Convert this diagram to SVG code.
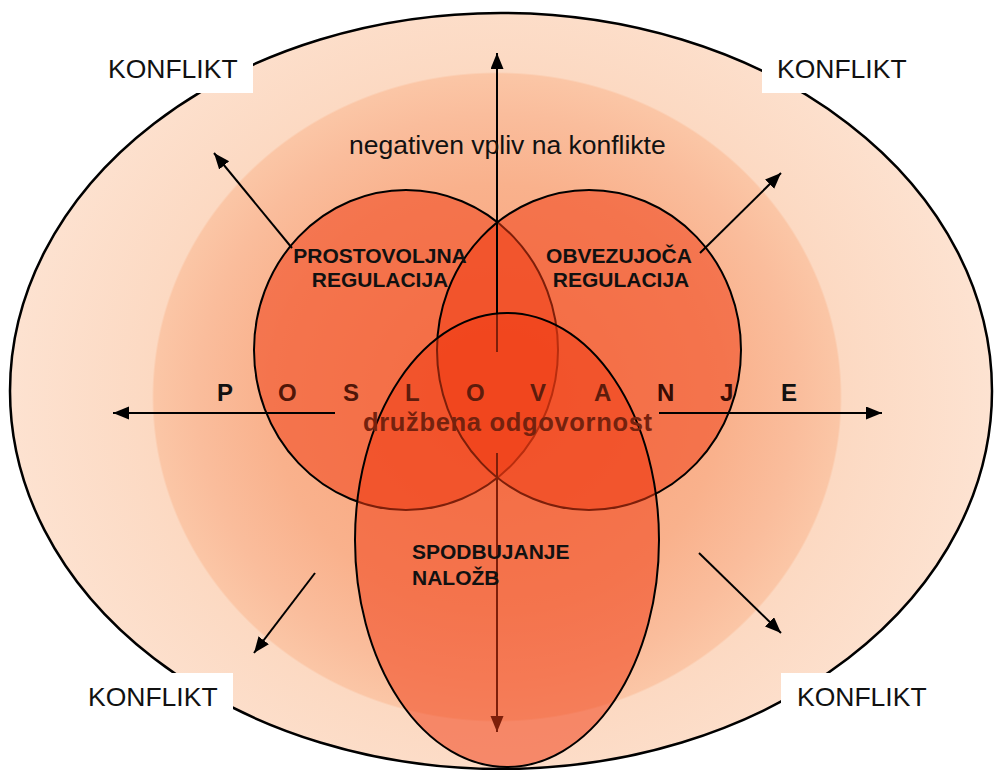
<svg xmlns="http://www.w3.org/2000/svg" width="995" height="770" viewBox="0 0 995 770">
<style>
.lbl{font-family:"Liberation Sans",Arial,sans-serif;font-size:26.5px;fill:#111}
.bold{font-family:"Liberation Sans",Arial,sans-serif;font-weight:bold;font-size:21px;fill:#111}
.big{font-family:"Liberation Sans",Arial,sans-serif;font-weight:bold;font-size:24px}
.circ{fill:#f03c14;fill-opacity:0.52;stroke:#000;stroke-width:2}
.arr{stroke:#000;stroke-width:2;fill:none;marker-end:url(#ah)}
</style>
<defs>
<radialGradient id="bg" gradientUnits="userSpaceOnUse" cx="497" cy="397" r="500" gradientTransform="translate(497 397) scale(1 0.942) translate(-497 -397)">
<stop offset="0" stop-color="#f8a178"/>
<stop offset="0.45" stop-color="#f9b18c"/>
<stop offset="0.6" stop-color="#fabd9c"/>
<stop offset="0.686" stop-color="#fbc6a6"/>
<stop offset="0.69" stop-color="#fcd9c2"/>
<stop offset="1" stop-color="#fde3d2"/>
</radialGradient>
<marker id="ah" markerUnits="userSpaceOnUse" markerWidth="18" markerHeight="14" refX="16" refY="6.5" orient="auto">
<path d="M0,0 L16,6.5 L0,13 z" fill="#000"/>
</marker>
</defs>

<g id="background">
<ellipse cx="501" cy="391" rx="491" ry="378" fill="url(#bg)" stroke="#000" stroke-width="2.5"/>
</g>

<g id="label-boxes" fill="#fff">
<rect x="95" y="48" width="158" height="45"/>
<rect x="762" y="48" width="160" height="45"/>
<rect x="75" y="673" width="158" height="45"/>
<rect x="781" y="673" width="160" height="45"/>
</g>

<g id="prostovoljna">
<ellipse class="circ" cx="406" cy="350" rx="152" ry="160"/>
</g>
<g id="obvezujoca">
<ellipse class="circ" cx="589" cy="350" rx="152" ry="160"/>
</g>

<g id="vertical-connectors">
<line class="arr" x1="497" y1="352" x2="497" y2="53"/>
<line class="arr" x1="497" y1="453" x2="497" y2="732"/>
</g>

<g id="spodbujanje">
<ellipse class="circ" cx="507" cy="540" rx="152" ry="227"/>
</g>

<g id="connectors">
<line class="arr" x1="335" y1="413" x2="113" y2="413"/>
<line class="arr" x1="659" y1="413" x2="882" y2="413"/>
<line class="arr" x1="292" y1="248" x2="214" y2="153"/>
<line class="arr" x1="700" y1="253" x2="781" y2="173"/>
<line class="arr" x1="315" y1="573" x2="254" y2="653"/>
<line class="arr" x1="699" y1="553" x2="781" y2="633"/>
</g>

<g id="poslovanje">
<text class="big" y="401"><tspan x="217" fill="#111">P</tspan><tspan x="278" fill="#501608">O</tspan><tspan x="343" fill="#501608">S</tspan><tspan x="405" fill="#5e1c0c">L</tspan><tspan x="466" fill="#5e1c0c">O</tspan><tspan x="530" fill="#5e1c0c">V</tspan><tspan x="594" fill="#5e1c0c">A</tspan><tspan x="657" fill="#360c04">N</tspan><tspan x="720" fill="#360c04">J</tspan><tspan x="781" fill="#111">E</tspan></text>
</g>

<g id="druzbena-odgovornost">
<text x="363" y="431" font-family="Liberation Sans, Arial, sans-serif" font-weight="bold" font-size="25.5" fill="#74220e" textLength="289" lengthAdjust="spacing">družbena odgovornost</text>
</g>

<g id="negativen">
<text class="lbl" x="349" y="154">negativen vpliv na konflikte</text>
</g>

<g id="labels-circles">
<text class="bold" x="380" y="263" text-anchor="middle">PROSTOVOLJNA</text>
<text class="bold" x="380" y="287" text-anchor="middle">REGULACIJA</text>
<text class="bold" x="619" y="263" text-anchor="middle">OBVEZUJOČA</text>
<text class="bold" x="621" y="287" text-anchor="middle">REGULACIJA</text>
<text class="bold" x="412" y="559">SPODBUJANJE</text>
<text class="bold" x="412" y="585">NALOŽB</text>
</g>

<g id="konflikt-tl"><text class="lbl" x="108" y="78">KONFLIKT</text></g>
<g id="konflikt-tr"><text class="lbl" x="777" y="78">KONFLIKT</text></g>
<g id="konflikt-bl"><text class="lbl" x="88" y="706">KONFLIKT</text></g>
<g id="konflikt-br"><text class="lbl" x="797" y="706">KONFLIKT</text></g>
</svg>
